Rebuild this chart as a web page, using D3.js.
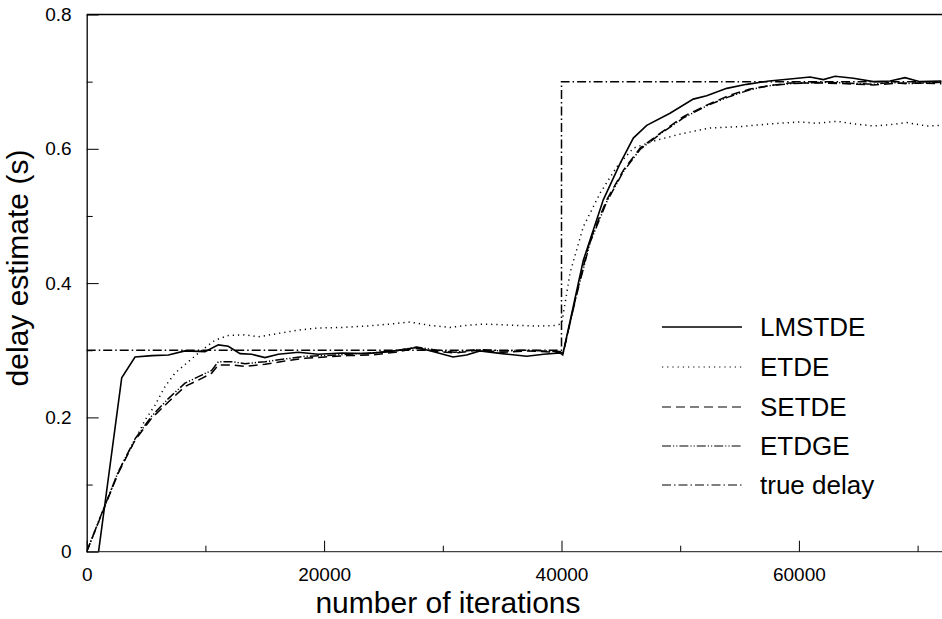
<!DOCTYPE html>
<html>
<head>
<meta charset="utf-8">
<script src="https://cdn.jsdelivr.net/npm/d3@7"></script>
<style>
  html, body { margin: 0; padding: 0; background: #fff; }
  svg { display: block; font-family: "Liberation Sans", Arial, sans-serif; }
</style>
</head>
<body>
<svg id="chart" width="942" height="619"></svg>
<script>
// ---- data ----
const seriesNames = ["LMSTDE", "ETDE", "SETDE", "ETDGE", "true delay"];

const lmstde = [[1000,0],[2950,0.259],[4070,0.290],[5500,0.292],[6880,0.293],[8280,0.299],[9970,0.298],[11090,0.308],[11930,0.306],[12920,0.295],[13900,0.294],[15020,0.289],[16140,0.294],[17830,0.297],[19510,0.294],[21500,0.296],[23500,0.295],[25500,0.298],[27800,0.304],[29000,0.299],[30860,0.290],[32000,0.293],[33130,0.299],[35000,0.295],[37070,0.291],[38500,0.294],[39870,0.296],[40100,0.293],[41840,0.434],[43520,0.524],[44930,0.578],[46050,0.616],[47180,0.635],[49140,0.653],[51100,0.674],[52230,0.679],[53920,0.690],[55600,0.696],[57500,0.701],[59250,0.704],[60940,0.707],[62060,0.703],[63050,0.708],[64590,0.705],[66270,0.700],[67680,0.701],[68940,0.706],[70200,0.700],[72000,0.701]];

const etde = [[0,0],[1400,0.062],[2660,0.119],[3930,0.161],[4910,0.196],[5750,0.218],[6600,0.246],[7440,0.266],[8560,0.283],[9690,0.300],[10810,0.315],[11930,0.322],[13340,0.323],[14460,0.320],[16140,0.325],[17830,0.330],[19380,0.333],[21500,0.334],[23590,0.336],[25550,0.339],[27240,0.342],[28920,0.337],[30610,0.334],[32000,0.337],[33420,0.339],[35000,0.338],[36230,0.337],[38000,0.336],[39600,0.337],[40020,0.340],[40720,0.415],[41840,0.484],[43250,0.534],[44650,0.573],[46050,0.601],[48020,0.613],[50270,0.623],[52510,0.631],[55040,0.633],[57500,0.637],[60100,0.640],[61500,0.638],[63190,0.641],[64700,0.637],[66270,0.634],[67700,0.636],[69080,0.639],[70770,0.634],[72000,0.635]];

const setde = [[0,0],[1400,0.062],[2660,0.117],[4070,0.166],[5480,0.199],[6880,0.223],[8280,0.246],[9690,0.258],[10530,0.266],[11090,0.278],[12220,0.278],[13340,0.276],[15020,0.279],[16700,0.284],[18390,0.288],[20070,0.290],[22000,0.292],[24000,0.293],[26000,0.297],[27800,0.303],[29500,0.298],[31000,0.296],[33000,0.300],[35000,0.297],[37000,0.299],[39800,0.297],[40150,0.296],[41280,0.385],[42400,0.464],[43810,0.524],[45210,0.568],[46620,0.601],[48300,0.623],[50270,0.648],[52230,0.665],[54200,0.680],[55880,0.689],[57500,0.694],[59250,0.698],[62060,0.698],[64000,0.697],[66270,0.695],[67700,0.697],[69080,0.698],[72000,0.697]];

const etdge = [[0,0],[1400,0.063],[2660,0.119],[4070,0.168],[5480,0.202],[6880,0.228],[8280,0.251],[9690,0.263],[10530,0.270],[11090,0.283],[12220,0.283],[13340,0.280],[15020,0.283],[16700,0.287],[18390,0.291],[20070,0.292],[22000,0.294],[24000,0.296],[26000,0.299],[27800,0.305],[29500,0.300],[31000,0.297],[33000,0.301],[35000,0.299],[37000,0.300],[39800,0.298],[40150,0.297],[41280,0.383],[42400,0.460],[43810,0.521],[45210,0.566],[46620,0.599],[48300,0.622],[50270,0.646],[52230,0.664],[54200,0.678],[55880,0.688],[57500,0.694],[59250,0.697],[62060,0.699],[64000,0.698],[66270,0.696],[67700,0.699],[69080,0.697],[72000,0.699]];

const trueDelay = [[0,0.3],[40000,0.3],[40000,0.7],[72000,0.7]];

const xTicks = [0, 20000, 40000, 60000];
const xTickLabels = ["0", "20000", "40000", "60000"];
const xMinorTicks = [10000, 30000, 50000, 70000];
const yTicks = [0, 0.2, 0.4, 0.6, 0.8];
const yTickLabels = ["0", "0.2", "0.4", "0.6", "0.8"];
const yMinorTicks = [0.1, 0.3, 0.5, 0.7];

// ---- layout ----
const svg = d3.select("#chart");
const mLeft = 86.7, mTop = 14.5, mBottom = 551.7;
const x = d3.scaleLinear().domain([0, 72000]).range([mLeft, mLeft + 72000 / 20000 * 237.4]);
const y = d3.scaleLinear().domain([0, 0.8]).range([mBottom, mTop]);

svg.append("defs").append("clipPath").attr("id", "clip")
  .append("rect").attr("x", mLeft).attr("y", mTop - 2).attr("width", 942 - mLeft).attr("height", mBottom - mTop + 2);

// frame line at top
svg.append("line").attr("x1", mLeft).attr("x2", 942).attr("y1", mTop).attr("y2", mTop)
  .attr("stroke", "#000").attr("stroke-width", 1.3);

const tickFont = 19;
// x axis
const xAxis = d3.axisBottom(x).tickValues(xTicks)
  .tickFormat((d, i) => xTickLabels[i]).tickSizeInner(-11).tickSizeOuter(0).tickPadding(16);
const gx = svg.append("g").attr("transform", `translate(0,${mBottom})`).call(xAxis);
gx.select(".domain").attr("stroke", "#444").attr("stroke-width", 1.3).attr("d", `M${mLeft},0H942`);
gx.selectAll("text").attr("font-size", tickFont).attr("fill", "#000").attr("font-family", "Liberation Sans, Arial, sans-serif");
const xMinor = d3.axisBottom(x).tickValues(xMinorTicks).tickFormat("").tickSizeInner(-6).tickSizeOuter(0);
const gxm = svg.append("g").attr("transform", `translate(0,${mBottom})`).call(xMinor);
gxm.select(".domain").remove();

// y axis
const yAxis = d3.axisLeft(y).tickValues(yTicks)
  .tickFormat((d, i) => yTickLabels[i]).tickSizeInner(-12).tickSizeOuter(0).tickPadding(15);
const gy = svg.append("g").attr("transform", `translate(${mLeft},0)`).call(yAxis);
gy.select(".domain").attr("stroke", "#000").attr("stroke-width", 1.3);
gy.selectAll("text").attr("font-size", tickFont).attr("fill", "#000").attr("font-family", "Liberation Sans, Arial, sans-serif");
const yMinor = d3.axisLeft(y).tickValues(yMinorTicks).tickFormat("").tickSizeInner(-6).tickSizeOuter(0);
const gym = svg.append("g").attr("transform", `translate(${mLeft},0)`).call(yMinor);
gym.select(".domain").remove();

// axis titles
svg.append("text").attr("x", 448).attr("y", 613).attr("text-anchor", "middle")
  .attr("font-size", 30).text("number of iterations");
svg.append("text").attr("transform", "translate(28,268) rotate(-90)").attr("text-anchor", "middle")
  .attr("font-size", 30).text("delay estimate (s)");

// series
const styles = [
  { data: lmstde, dash: null, w: 1.6 },
  { data: etde, dash: "1.2,4", w: 1.5 },
  { data: setde, dash: "9,5", w: 1.5 },
  { data: etdge, dash: "9,2,1.2,2,1.2,2", w: 1.5 },
  { data: trueDelay, dash: "9,3,1.5,3", w: 1.5 }
];
const line = d3.line().x(d => x(d[0])).y(d => y(d[1]));
const plot = svg.append("g").attr("clip-path", "url(#clip)");
styles.forEach(s => {
  plot.append("path").attr("d", line(s.data)).attr("fill", "none")
    .attr("stroke", "#000").attr("stroke-width", s.w)
    .attr("stroke-dasharray", s.dash);
});

// legend
const legendRows = [327, 367, 407, 446, 485];
const lg = svg.append("g");
seriesNames.forEach((name, i) => {
  lg.append("line").attr("x1", 662).attr("x2", 742).attr("y1", legendRows[i]).attr("y2", legendRows[i])
    .attr("stroke", "#000").attr("stroke-width", i === 0 ? 1.6 : 1.2)
    .attr("stroke-dasharray", styles[i].dash);
  lg.append("text").attr("x", 760).attr("y", legendRows[i]).attr("dy", "0.36em")
    .attr("font-size", 26).text(name);
});
</script>
</body>
</html>
